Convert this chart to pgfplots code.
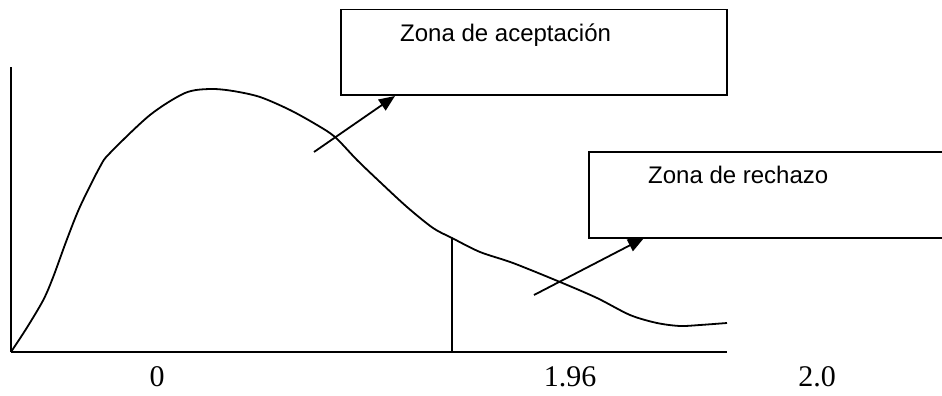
\documentclass[border=0pt]{standalone}
\usepackage{pgfplots}
\pgfplotsset{compat=1.18}
\usepackage{fontspec}
\setmainfont{Liberation Serif}
\newfontfamily\arial{Liberation Sans}
\usetikzlibrary{arrows.meta}
\begin{document}
\begin{tikzpicture}
\useasboundingbox (-11pt,-44pt) rectangle (931pt,352pt);
\begin{axis}[
  scale only axis, width=716pt, height=285pt,
  xmin=0, xmax=716, ymin=0, ymax=285,
  axis lines=left, axis line style={-, line width=1.8pt, black},
  ticks=none, clip=false,
]
\addplot[black, line width=1.8pt, smooth, tension=0.5] coordinates {
(0,0) (15.7,24) (32.3,52) (42.3,75.3) (55.7,112) (69,145.3) (89,185.3) (99,199)
(139,237) (174,259) (199,263) (222,261) (249,255) (279,242) (306,227) (324,215)
(346,192) (369,170) (396,145) (422,124) (441,114) (469,100) (502,89) (549,70)
(586,54) (619,37) (646,29) (669,26) (689,27) (716,29)};
\addplot[black, line width=1.8pt] coordinates {(441,0) (441,114)};
\draw[line width=1.8pt] (axis cs:330,257) rectangle (axis cs:716,342.5);
\draw[line width=1.8pt] (axis cs:578,114) rectangle (axis cs:945,200);
\node[anchor=base west, font=\arial\fontsize{24}{28}\selectfont, inner sep=0pt] at (axis cs:389,310) {Zona de aceptación};
\node[anchor=base west, font=\arial\fontsize{24}{28}\selectfont, inner sep=0pt] at (axis cs:637,168) {Zona de rechazo};
\draw[line width=1.8pt, -{Triangle[length=16pt,width=13pt]}] (axis cs:303,200) -- (axis cs:384,256);
\draw[line width=1.8pt, -{Triangle[length=16pt,width=13pt]}] (axis cs:523,57) -- (axis cs:633,114);
\node[anchor=base, font=\fontsize{30}{34}\selectfont, inner sep=0pt] at (axis cs:146,-34) {0};
\node[anchor=base, font=\fontsize{30}{34}\selectfont, inner sep=0pt] at (axis cs:559,-34) {1.96};
\node[anchor=base, font=\fontsize{30}{34}\selectfont, inner sep=0pt] at (axis cs:806,-34) {2.0};
\end{axis}
\end{tikzpicture}
\end{document}
